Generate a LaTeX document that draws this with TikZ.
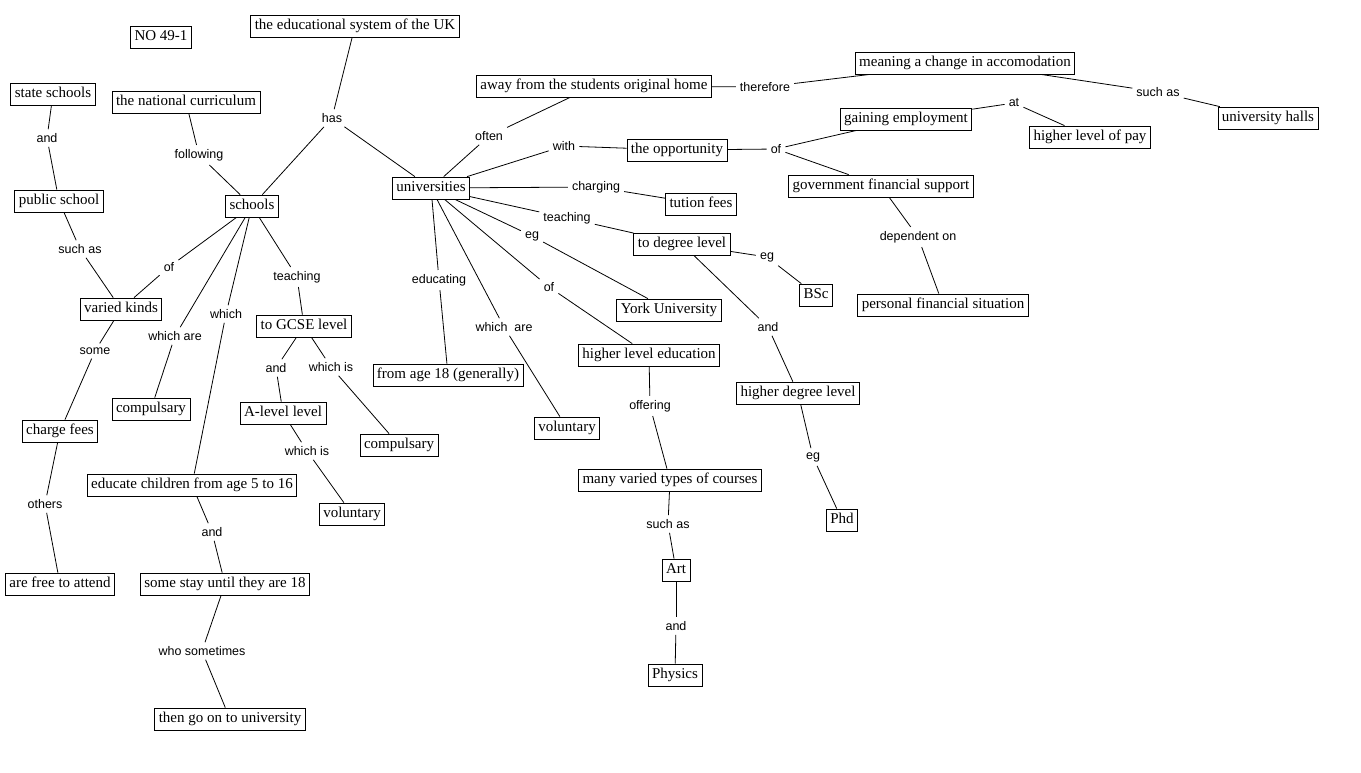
\documentclass[tikz,border=0pt]{standalone}
\usepackage{fontspec}
\setmainfont{Liberation Serif}
\newfontfamily\labelfont{Liberation Sans}

\begin{document}
\begin{tikzpicture}[x=1pt,y=-1pt,
  box/.style={draw,line width=0.8pt,font=\fontsize{15}{16}\selectfont,inner xsep=4pt,inner ysep=0pt,minimum height=22pt,text height=10.5pt,text depth=3.5pt},
  lab/.style={font=\labelfont\fontsize{12.5}{13}\selectfont,inner sep=4pt}]
\useasboundingbox (0,0) rectangle (1361,772);
% concepts
\node[box] (no) at (161,37) {NO 49-1};
\node[box] (edu) at (355,26) {the educational system of the UK};
\node[box] (state) at (53,94) {state schools};
\node[box] (natcur) at (186,102) {the national curriculum};
\node[box] (public) at (59,201) {public school};
\node[box] (schools) at (252,206) {schools};
\node[box] (univ) at (431,188) {universities};
\node[box] (varied) at (121,309) {varied kinds};
\node[box] (gcse) at (304,326) {to GCSE level};
\node[box] (comp1) at (151,409) {compulsary};
\node[box] (charge) at (60,431) {charge fees};
\node[box] (alevel) at (283,413) {A-level level};
\node[box] (comp2) at (399,445) {compulsary};
\node[box] (educate) at (192,485) {educate children from age 5 to 16};
\node[box] (vol1) at (352,514) {voluntary};
\node[box] (free) at (60,584) {are free to attend};
\node[box] (stay) at (225,584) {some stay until they are 18};
\node[box] (thengo) at (230,719) {then go on to university};
\node[box] (age18) at (448,375) {from age 18 (generally)};
\node[box] (vol2) at (567,428) {voluntary};
\node[box] (york) at (669,310) {York University};
\node[box] (hle) at (649,355) {higher level education};
\node[box] (higherdeg) at (798,393) {higher degree level};
\node[box] (many) at (670,480) {many varied types of courses};
\node[box] (phd) at (842,520) {Phd};
\node[box] (art) at (676,570) {Art};
\node[box] (physics) at (675,675) {Physics};
\node[box] (bsc) at (816,295) {BSc};
\node[box] (away) at (594,86) {away from the students original home};
\node[box] (opp) at (677,150) {the opportunity};
\node[box] (tution) at (701,204) {tution fees};
\node[box] (degree) at (682,244) {to degree level};
\node[box] (meaning) at (965,63) {meaning a change in accomodation};
\node[box] (gaining) at (906,119) {gaining employment};
\node[box] (govt) at (881,186) {government financial support};
\node[box] (pay) at (1090,137) {higher level of pay};
\node[box] (halls) at (1268,118) {university halls};
\node[box] (personal) at (943,305) {personal financial situation};
% linking phrases
\node[lab] (lhas) at (332,118) {has};
\node[lab] (lfollow) at (199,155) {following};
\node[lab] (land1) at (47,138) {and};
\node[lab] (lsuch1) at (80,249) {such as};
\node[lab] (lof1) at (169,267) {of};
\node[lab] (lteach1) at (297,277) {teaching};
\node[lab] (lwhich) at (226,314) {which};
\node[lab] (lwhare1) at (175,336) {which are};
\node[lab] (lsome) at (95,351) {some};
\node[lab] (land2) at (276,368) {and};
\node[lab] (lwhis1) at (331,367) {which is};
\node[lab] (lwhis2) at (307,451) {which is};
\node[lab] (lothers) at (45,504) {others};
\node[lab] (land3) at (212,532) {and};
\node[lab] (lwho) at (202,651) {who sometimes};
\node[lab] (leduc) at (439,280) {educating};
\node[lab] (lwhare2) at (504,327) {which~ are};
\node[lab] (lof2) at (549,287) {of};
\node[lab] (loffer) at (650,406) {offering};
\node[lab] (lsuch3) at (668,524) {such as};
\node[lab] (land5) at (676,626) {and};
\node[lab] (land4) at (768,327) {and};
\node[lab] (leg3) at (813,457) {eg};
\node[lab] (loften) at (489,136) {often};
\node[lab] (lwith) at (564,146) {with};
\node[lab] (lcharg) at (596,187) {charging};
\node[lab] (lteach2) at (567,218) {teaching};
\node[lab] (leg1) at (532,236) {eg};
\node[lab] (lthere) at (765,87) {therefore};
\node[lab] (lof3) at (776,149) {of};
\node[lab] (leg2) at (767,257) {eg};
\node[lab] (lsuch2) at (1158,92) {such as};
\node[lab] (lat) at (1014,103) {at};
\node[lab] (ldep) at (918,237) {dependent on};
% connectors
\foreach \a/\b in {edu/lhas,lhas/schools,lhas/univ,natcur/lfollow,lfollow/schools,
  state/land1,land1/public,public/lsuch1,lsuch1/varied,schools/lof1,lof1/varied,
  schools/lwhare1,lwhare1/comp1,schools/lwhich,lwhich/educate,schools/lteach1,lteach1/gcse,
  varied/lsome,lsome/charge,charge/lothers,lothers/free,gcse/land2,land2/alevel,
  gcse/lwhis1,lwhis1/comp2,alevel/lwhis2,lwhis2/vol1,educate/land3,land3/stay,
  stay/lwho,lwho/thengo,univ/loften,loften/away,away/lthere,lthere/meaning,
  meaning/lsuch2,lsuch2/halls,univ/lwith,lwith/opp,opp/lof3,lof3/gaining,lof3/govt,
  gaining/lat,lat/pay,govt/ldep,ldep/personal,univ/lcharg,lcharg/tution,
  univ/lteach2,lteach2/degree,degree/leg2,leg2/bsc,degree/land4,land4/higherdeg,
  higherdeg/leg3,leg3/phd,univ/leg1,leg1/york,univ/lof2,lof2/hle,hle/loffer,loffer/many,
  many/lsuch3,lsuch3/art,art/land5,land5/physics,univ/leduc,leduc/age18,
  univ/lwhare2,lwhare2/vol2}
  \draw[line width=0.8pt] (\a) -- (\b);
\end{tikzpicture}
\end{document}
